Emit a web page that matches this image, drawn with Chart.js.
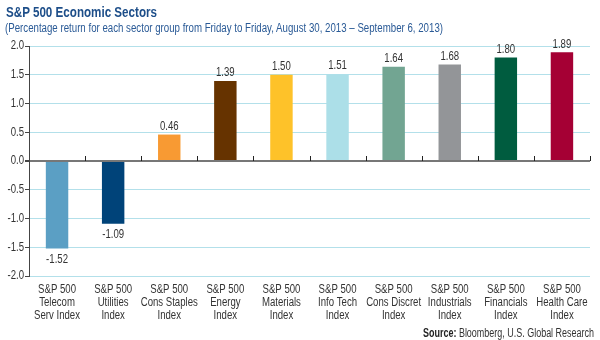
<!DOCTYPE html>
<html>
<head>
<meta charset="utf-8">
<script src="https://cdn.jsdelivr.net/npm/chart.js@4"></script>
<style>
  body { margin: 0; background: #fff; }
  #wrap { position: relative; width: 600px; height: 340px; font-family: "Liberation Sans", Arial, sans-serif; }
  .txt { position: absolute; white-space: nowrap; transform-origin: 0 0; }
  #title { left: 6px; top: 3px; font-size: 15px; font-weight: bold; color: #1d4e89; }
  #sub { left: 5px; top: 21px; font-size: 12px; color: #2a5a96; }
  #source { top: 326px; font-size: 12px; color: #333; }
  #source b { color: #222; }
  canvas { position: absolute; left: 0; top: 0; }
</style>
</head>
<body>
<div id="wrap">
  <canvas id="chartId" width="600" height="340"></canvas>
  <div id="title" class="txt" data-w="151">S&amp;P 500 Economic Sectors</div>
  <div id="sub" class="txt" data-w="438">(Percentage return for each sector group from Friday to Friday, August 30, 2013 – September 6, 2013)</div>
  <div id="source" class="txt" data-w="171" data-right="594"><b>Source:</b> Bloomberg, U.S. Global Research</div>
</div>
<script>
const sector_labels = [
    ['S&P 500', 'Telecom', 'Serv Index'],
    ['S&P 500', 'Utilities', 'Index'],
    ['S&P 500', 'Cons Staples', 'Index'],
    ['S&P 500', 'Energy', 'Index'],
    ['S&P 500', 'Materials', 'Index'],
    ['S&P 500', 'Info Tech', 'Index'],
    ['S&P 500', 'Cons Discret', 'Index'],
    ['S&P 500', 'Industrials', 'Index'],
    ['S&P 500', 'Financials', 'Index'],
    ['S&P 500', 'Health Care', 'Index']
]
const sector_returns = [-1.52, -1.09, 0.46, 1.39, 1.50, 1.51, 1.64, 1.68, 1.80, 1.89]
const bar_colors = ['#5b9fc4', '#004379', '#f89a33', '#663300', '#fec229',
                    '#acdfe8', '#72a592', '#939598', '#005c3f', '#a50034']
const y_ticks = [-2.0, -1.5, -1.0, -0.5, 0.0, 0.5, 1.0, 1.5, 2.0]

const fontFam = '"Liberation Sans", Arial, sans-serif'
const squeeze = 0.8   // fake a condensed face

// squeeze the html texts to the widths seen in the picture
document.querySelectorAll('.txt').forEach(el => {
    const w = el.getBoundingClientRect().width
    const k = Number(el.dataset.w) / w
    el.style.transform = 'scaleX(' + k + ')'
    if (el.dataset.right) el.style.left = (Number(el.dataset.right) - Number(el.dataset.w)) + 'px'
})

function squeezedText(ctx, str, x, y) {
    ctx.save()
    ctx.translate(x, y)
    ctx.scale(squeeze, 1)
    ctx.fillText(str, 0, 0)
    ctx.restore()
}

// value labels, category labels and the little ticks on the zero line
const labelPlugin = {
    id: 'barLabels',
    afterDraw(chart) {
        const ctx = chart.ctx
        const xs = chart.scales.x
        const ys = chart.scales.y
        const zero = ys.getPixelForValue(0)
        ctx.save()
        ctx.strokeStyle = '#222'
        ctx.lineWidth = 1
        for (let i = 1; i <= sector_returns.length; i++) {
            const bx = Math.round(xs.getPixelForValue(i - 0.5)) + 0.5
            ctx.beginPath()
            ctx.moveTo(bx, zero)
            ctx.lineTo(bx, zero - 5)
            ctx.stroke()
        }
        ctx.fillStyle = '#333'
        ctx.font = '12px ' + fontFam
        ctx.textAlign = 'center'
        chart.getDatasetMeta(0).data.forEach((bar, i) => {
            const v = sector_returns[i]
            if (v >= 0) {
                ctx.textBaseline = 'bottom'
                squeezedText(ctx, v.toFixed(2), bar.x, bar.y - 2)
            } else {
                ctx.textBaseline = 'top'
                squeezedText(ctx, v.toFixed(2), bar.x, bar.y + 5)
            }
        })
        ctx.textBaseline = 'middle'
        sector_labels.forEach((lines, i) => {
            const cx = xs.getPixelForTick(i)
            lines.forEach((s, j) => squeezedText(ctx, s, cx, ys.bottom + 14 + j * 13))
        })
        ctx.textAlign = 'right'
        y_ticks.forEach(v => {
            squeezedText(ctx, v.toFixed(1), ys.left + 24, ys.getPixelForValue(v))
        })
        ctx.restore()
    }
}

const config_bar = {
    type: 'bar',
    data: {
        labels: sector_labels,
        datasets: [{
            data: sector_returns,
            backgroundColor: bar_colors,
            categoryPercentage: 1,
            barPercentage: 0.4
        }]
    },
    options: {
        responsive: false,
        animation: false,
        layout: { padding: { top: 46, right: 10, bottom: 0, left: 0 } },
        plugins: {
            legend: { display: false },
            tooltip: { enabled: false }
        },
        scales: {
            x: {
                grid: { display: false },
                border: { display: false },
                ticks: { display: false },
                afterFit: function(scale) { scale.height = 64 }
            },
            y: {
                min: -2,
                max: 2,
                afterBuildTicks: function(scale) {
                    scale.ticks = y_ticks.map(v => ({ value: v }))
                },
                grid: {
                    color: ctx => ctx.tick && ctx.tick.value === 0 ? '#777' : '#b3e0ea',
                    lineWidth: ctx => ctx.tick && ctx.tick.value === 0 ? 2 : 1,
                    tickColor: '#444',
                    tickLength: 4
                },
                border: { color: '#444', width: 1 },
                ticks: { display: false },
                afterFit: function(scale) { scale.width = 29 }
            }
        }
    },
    plugins: [labelPlugin]
}

new Chart(document.getElementById('chartId'), config_bar)
</script>
</body>
</html>
